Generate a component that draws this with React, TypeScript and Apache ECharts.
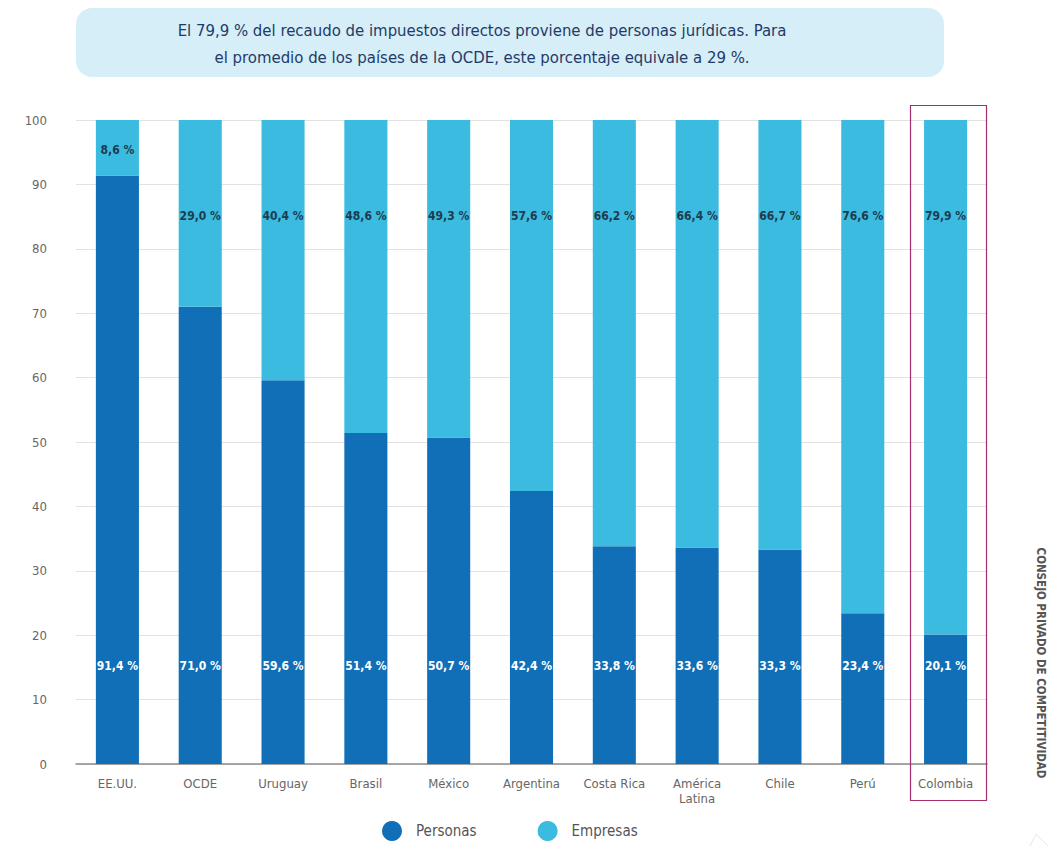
import React, { useEffect, useRef } from "react";
import * as echarts from "echarts";

const categories = ["EE.UU.", "OCDE", "Uruguay", "Brasil", "México", "Argentina", "Costa Rica", "América\nLatina", "Chile", "Perú", "Colombia"];
const personas = [91.4, 71.0, 59.6, 51.4, 50.7, 42.4, 33.8, 33.6, 33.3, 23.4, 20.1];
const empresas = [8.6, 29.0, 40.4, 48.6, 49.3, 57.6, 66.2, 66.4, 66.7, 76.6, 79.9];
const yTicks = { min: 0, max: 100, interval: 10 };
const titleLines = [
  "El 79,9 % del recaudo de impuestos directos proviene de personas jurídicas. Para",
  "el promedio de los países de la OCDE, este porcentaje equivale a 29 %.",
];
const sourceText = "CONSEJO PRIVADO DE COMPETITIVIDAD";

const FONT = "'Liberation Sans Narrow', 'DejaVu Sans Condensed', Roboto, sans-serif";
const DARK = "#116fb7";
const LIGHT = "#3bbbdf";

const fmt = (v: number) => v.toFixed(1).replace(".", ",") + " %";

export default function App() {
  const ref = useRef<HTMLDivElement>(null);
  useEffect(() => {
    document.body.style.margin = "0";
    const chart = echarts.init(ref.current!, null, { renderer: "svg" });
    chart.setOption({
      animation: false,
      textStyle: { fontFamily: FONT },
      grid: { left: 76, right: 73, top: 120, bottom: 82, containLabel: false },
      legend: {
        top: 821,
        left: 382,
        icon: "circle",
        itemWidth: 20,
        itemHeight: 20,
        itemGap: 61,
        padding: 0,
        textStyle: { fontSize: 15, color: "#555", fontFamily: FONT, padding: [0, 0, 0, 9] },
        data: ["Personas", "Empresas"],
      },
      xAxis: {
        type: "category",
        data: categories,
        axisLine: { lineStyle: { color: "#8c8c8c", width: 1.5 } },
        axisTick: { show: false },
        axisLabel: { color: "#666", fontSize: 13, margin: 12, lineHeight: 15, fontFamily: FONT },
      },
      yAxis: {
        type: "value",
        min: yTicks.min,
        max: yTicks.max,
        interval: yTicks.interval,
        axisLine: { show: false },
        axisTick: { show: false },
        axisLabel: { color: "#666", fontSize: 13, margin: 29, fontFamily: FONT },
        splitLine: { lineStyle: { color: "#e2e2e2", width: 1 } },
      },
      series: [
        {
          name: "Personas",
          type: "bar",
          stack: "total",
          barWidth: "52%",
          itemStyle: { color: DARK },
          label: {
            show: true,
            position: "insideBottom",
            distance: 92,
            color: "#fff",
            fontWeight: "bold",
            fontSize: 12,
            fontFamily: FONT,
            formatter: (p: any) => fmt(p.value),
          },
          data: personas,
        },
        {
          name: "Empresas",
          type: "bar",
          stack: "total",
          barWidth: "52%",
          itemStyle: { color: LIGHT },
          label: {
            show: true,
            position: "insideTop",
            distance: 90,
            color: "#1d3c4f",
            fontWeight: "bold",
            fontSize: 12,
            fontFamily: FONT,
            formatter: (p: any) => fmt(p.value),
          },
          data: empresas.map((v) =>
            v < 15 ? { value: v, label: { position: "inside", distance: 0, offset: [0, 2] } } : v
          ),
        },
      ],
      graphic: [
        {
          type: "rect",
          shape: { x: 76, y: 8, width: 868, height: 69, r: 16 },
          style: { fill: "#d6eef7" },
          z: 0,
        },
        {
          type: "text",
          x: 482,
          y: 30,
          style: { text: titleLines[0], fill: "#1f3a68", fontSize: 16.6, fontFamily: FONT, align: "center", verticalAlign: "middle" },
        },
        {
          type: "text",
          x: 482,
          y: 57,
          style: { text: titleLines[1], fill: "#1f3a68", fontSize: 16.6, fontFamily: FONT, align: "center", verticalAlign: "middle" },
        },
        {
          type: "rect",
          shape: { x: 910.5, y: 105.5, width: 76, height: 695 },
          style: { fill: "none", stroke: "#a3306c", lineWidth: 1.2 },
          z: 10,
        },
        {
          type: "text",
          x: 1041,
          y: 663,
          rotation: -Math.PI / 2,
          style: { text: sourceText, fill: "#555", fontSize: 11.5, fontWeight: "bold", fontFamily: FONT, align: "center", verticalAlign: "middle" },
        },
        {
          type: "polyline",
          shape: { points: [[1030, 846], [1036, 834], [1048, 846]] },
          style: { stroke: "#dde8f0", fill: "none", lineWidth: 1 },
        },
      ],
    });
    return () => chart.dispose();
  }, []);
  return <div ref={ref} style={{ width: 1060, height: 846 }} />;
}
